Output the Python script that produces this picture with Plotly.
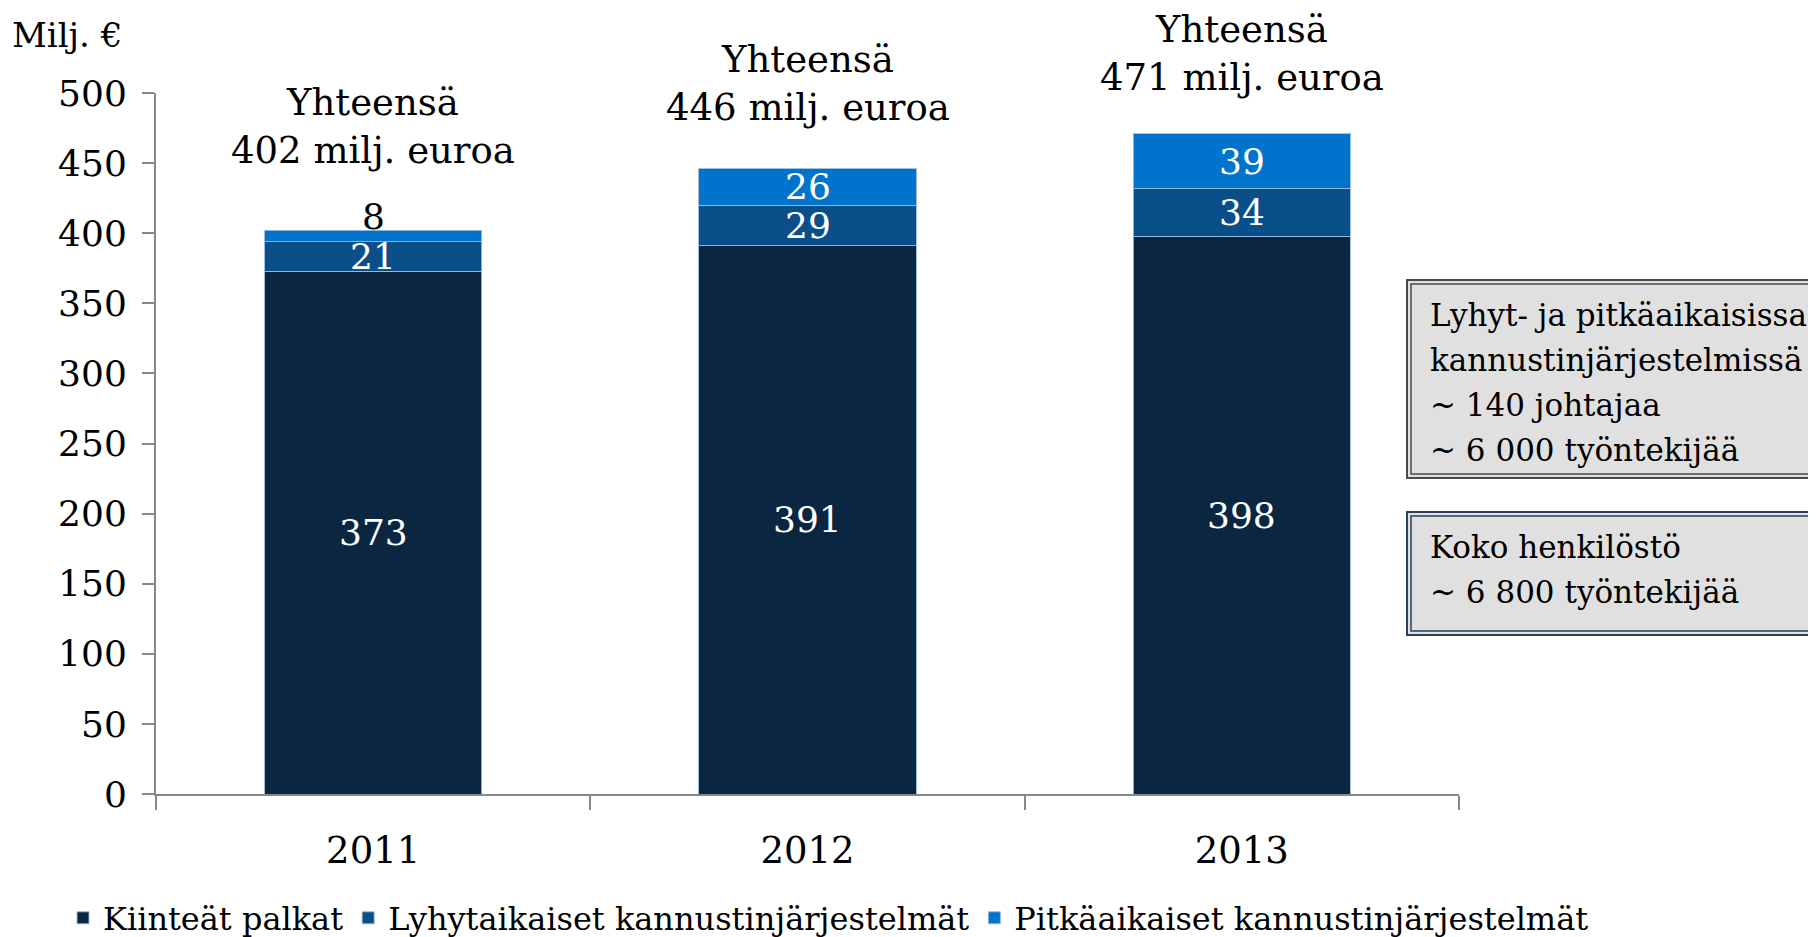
import plotly.graph_objects as go

years = ["2011", "2012", "2013"]
fixed_pay = [373, 391, 398]
short_term = [21, 29, 34]
long_term = [8, 26, 39]
totals = [402, 446, 471]
series_names = ["Kiinteät palkat", "Lyhytaikaiset kannustinjärjestelmät", "Pitkäaikaiset kannustinjärjestelmät"]
series_colors = ["#0A2640", "#0B4F89", "#0073CC"]
total_shift = [56, 38, 33]
box1_lines = ["Lyhyt- ja pitkäaikaisissa", "kannustinjärjestelmissä", "~ 140 johtajaa", "~ 6 000 työntekijää"]
box2_lines = ["Koko henkilöstö", "~ 6 800 työntekijää"]

FONT = "DejaVu Serif"
OFF = 8  # page body margin
W, H = 1808, 929
# plot area in page pixels
PL, PR, PT, PB = 156, 1459, 93, 794
L, R, T, B = PL - OFF, PR - OFF, PT - OFF, PB - OFF
PW, PH = R - L, B - T


def px(x):
    return (x - OFF - L) / PW


def py(y):
    return (B - (y - OFF)) / PH


fig = go.Figure()
series = [fixed_pay, short_term, long_term]
for name, vals, col in zip(series_names, series, series_colors):
    fig.add_trace(go.Bar(
        x=years, y=vals, name=name,
        marker=dict(color=col, line=dict(color="rgba(150,185,220,0.9)", width=1)),
        hoverinfo="skip",
    ))

annotations = []
for i, yr in enumerate(years):
    base = 0
    for vals in series:
        v = vals[i]
        if v < 10:
            annotations.append(dict(x=i, y=base + v, text=str(v), showarrow=False,
                                    yanchor="middle", yshift=14,
                                    font=dict(family=FONT, size=36, color="black")))
        else:
            annotations.append(dict(x=i, y=base + v / 2, text=str(v), showarrow=False,
                                    yanchor="middle",
                                    font=dict(family=FONT, size=36, color="white")))
        base += v
    annotations.append(dict(x=i, y=totals[i], text=f"Yhteensä<br>{totals[i]} milj. euroa",
                            showarrow=False, yanchor="bottom", yshift=total_shift[i],
                            font=dict(family=FONT, size=37, color="black")))

annotations.append(dict(xref="paper", yref="paper", x=px(10), y=py(35), xanchor="left",
                        yanchor="middle", text="Milj. €", showarrow=False,
                        font=dict(family=FONT, size=34, color="black")))

LINE_STEP = 45
for lines, first_y in [(box1_lines, 315), (box2_lines, 547)]:
    for k, line in enumerate(lines):
        annotations.append(dict(xref="paper", yref="paper", x=px(1428),
                                y=py(first_y + k * LINE_STEP), xanchor="left",
                                yanchor="middle", align="left", text=line, showarrow=False,
                                font=dict(family=FONT, size=31, color="black")))

shapes = []
for (y0, y1, lc) in [(280, 478, "#4A4A4A"), (512, 635, "#2A3F58")]:
    shapes.append(dict(type="rect", xref="paper", yref="paper", x0=px(1407), x1=px(1850),
                       y0=py(y1), y1=py(y0), line=dict(color=lc, width=2),
                       fillcolor="#E0E0E0", layer="below"))
    shapes.append(dict(type="rect", xref="paper", yref="paper", x0=px(1411), x1=px(1850),
                       y0=py(y1 - 4), y1=py(y0 + 4), line=dict(color=lc, width=1.5),
                       fillcolor="rgba(0,0,0,0)", layer="above"))

fig.update_layout(
    width=W, height=H,
    margin=dict(l=L, r=W - R, t=T, b=H - B, autoexpand=False),
    barmode="stack", bargap=0.5,
    plot_bgcolor="white", paper_bgcolor="white",
    font=dict(family=FONT, size=36, color="black"),
    showlegend=True,
    legend=dict(orientation="h", x=px(1594), xanchor="right", y=py(918), yanchor="middle",
                font=dict(family=FONT, size=32, color="black"),
                traceorder="normal", tracegroupgap=0),
    annotations=annotations,
    shapes=shapes,
)
fig.update_yaxes(range=[0, 500], tickvals=list(range(0, 501, 50)), showgrid=False,
                 showline=True, linecolor="#888888", linewidth=2, ticks="outside",
                 ticklen=12, tickcolor="#888888", tickwidth=2, zeroline=False,
                 tickfont=dict(family=FONT, size=36), ticklabelstandoff=8)
fig.update_xaxes(type="category", range=[-0.5, 2.5], showgrid=False, showline=True,
                 linecolor="#888888", linewidth=2, ticks="outside", tickson="boundaries",
                 ticklen=14, tickcolor="#888888", tickwidth=2,
                 tickfont=dict(family=FONT, size=37), ticklabelstandoff=23, tickangle=0)

fig.write_html("out.html")
